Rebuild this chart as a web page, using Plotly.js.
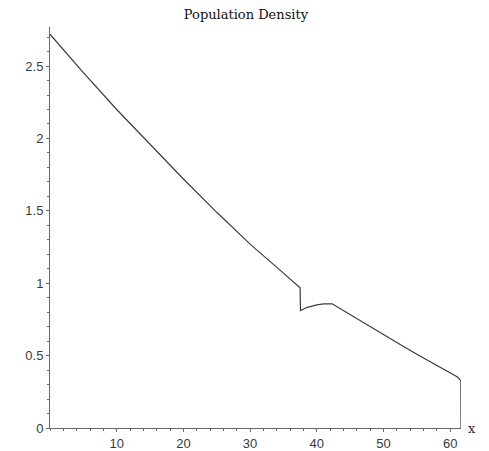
<!DOCTYPE html>
<html>
<head>
<meta charset="utf-8">
<script src="https://cdn.plot.ly/plotly-3.0.1.min.js"></script>
<style>html,body{margin:0;padding:0;background:#fff;}#chart{width:489px;height:451px;}</style>
</head>
<body>
<div id="chart"></div>
<script>
// Data
var xValues = [0, 5, 10, 15, 20, 25, 30, 35, 37.5, 37.55, 38.5, 40, 41, 42.3, 43.55, 45, 47.5, 50, 52.5, 55, 57.5, 60, 61.1, 61.6, 61.62];
var density = [2.72, 2.455, 2.20, 1.96, 1.72, 1.49, 1.27, 1.07, 0.968, 0.812, 0.832, 0.851, 0.858, 0.858, 0.823, 0.785, 0.715, 0.645, 0.577, 0.51, 0.445, 0.38, 0.352, 0.327, 0];
var xTickVals = [10, 20, 30, 40, 50, 60];
var xTickText = ["10", "20", "30", "40", "50", "60"];
var yTickVals = [0, 0.5, 1, 1.5, 2, 2.5];
var yTickText = ["0", "0.5", "1", "1.5", "2", "2.5"];
var chartTitle = "Population Density";
var xLabel = "x";

var axisColor = "#6a6a6a";
var tickFont = {family: "Liberation Sans, Arial, sans-serif", size: 13, color: "#3a3a3a"};

Plotly.newPlot("chart", [{
  x: xValues,
  y: density,
  type: "scatter",
  mode: "lines",
  line: {color: "#3c3c3c", width: 1.2},
  hoverinfo: "none"
}], {
  width: 489,
  height: 451,
  margin: {l: 50, r: 28, t: 27, b: 23},
  paper_bgcolor: "#ffffff",
  plot_bgcolor: "#ffffff",
  showlegend: false,
  title: {
    text: chartTitle,
    font: {family: "DejaVu Serif, Liberation Serif, serif", size: 13, color: "#111"},
    x: 0.503, xanchor: "center", y: 0.969, yanchor: "middle"
  },
  xaxis: {
    range: [0, 61.62],
    showgrid: false, zeroline: false,
    showline: true, linecolor: axisColor, linewidth: 1,
    ticks: "outside", ticklen: 3, tickcolor: axisColor, tickwidth: 1,
    tickvals: xTickVals, ticktext: xTickText,
    tickfont: tickFont,
    minor: {dtick: 2, tick0: 0, ticks: "outside", ticklen: 2, tickcolor: axisColor, showgrid: false}
  },
  yaxis: {
    range: [0, 2.77],
    showgrid: false, zeroline: false,
    showline: true, linecolor: axisColor, linewidth: 1,
    ticks: "outside", ticklen: 3, tickcolor: axisColor, tickwidth: 1,
    tickvals: yTickVals, ticktext: yTickText,
    tickfont: tickFont,
    minor: {dtick: 0.1, tick0: 0, ticks: "outside", ticklen: 2, tickcolor: axisColor, showgrid: false}
  },
  annotations: [{
    text: xLabel,
    xref: "paper", yref: "paper",
    x: 1, y: 0,
    xanchor: "left", yanchor: "middle",
    xshift: 5, yshift: 0,
    showarrow: false,
    font: {family: "DejaVu Serif, Liberation Serif, serif", size: 13, color: "#333"}
  }]
}, {staticPlot: true, displayModeBar: false});
</script>
</body>
</html>
